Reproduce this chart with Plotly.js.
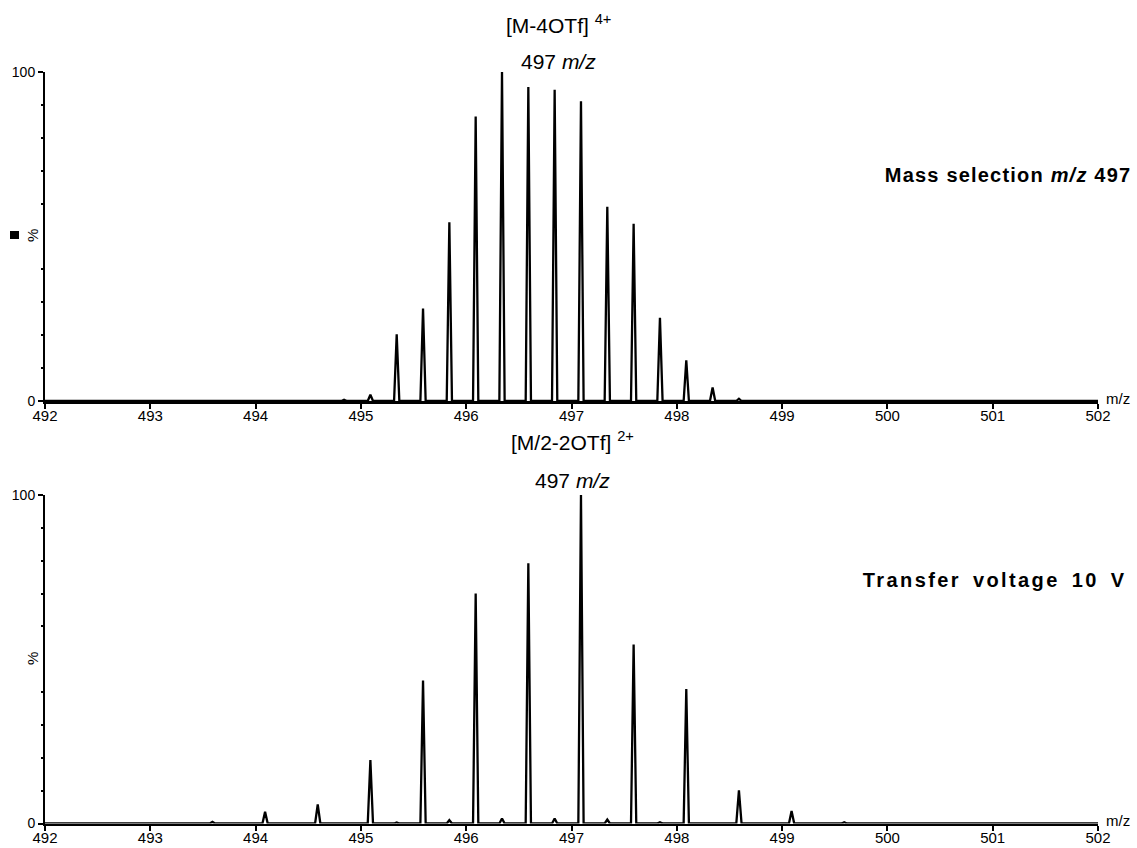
<!DOCTYPE html>
<html>
<head>
<meta charset="utf-8">
<script src="https://cdn.plot.ly/plotly-3.0.1.min.js"></script>
<style>html,body{margin:0;padding:0;background:#fff;}#chart{width:1137px;height:848px;}</style>
</head>
<body>
<div id="chart"></div>
<script>
// Peak centroids (m/z) and relative intensities (%)
const topMz  = [494.84, 495.09, 495.34, 495.59, 495.84, 496.09, 496.34, 496.59, 496.84, 497.09, 497.34, 497.59, 497.84, 498.09, 498.34, 498.59];
const topInt = [0.4, 1.9, 20.3, 28.1, 54.3, 86.5, 100, 95.4, 94.6, 91.1, 59.0, 53.9, 25.3, 12.4, 4.1, 0.7];

const botMz  = [492.59, 493.09, 493.59, 494.09, 494.59, 495.09, 495.34, 495.59, 495.84, 496.09, 496.34, 496.59, 496.84, 497.09, 497.34, 497.59, 497.84, 498.09, 498.59, 499.09, 499.59];
const botInt = [0.1, 0.2, 0.5, 3.6, 5.8, 19.3, 0.3, 43.5, 1.0, 70.0, 1.5, 79.2, 1.5, 100, 1.2, 54.5, 0.4, 40.9, 10.1, 3.8, 0.4];

const xTicks = [492, 493, 494, 495, 496, 497, 498, 499, 500, 501, 502];
const yTickVals = [0, 100];
const yTickText = ['0', '100'];
const yMidTick = [50];
const yMinorTicks = [10, 20, 30, 40, 60, 70, 80, 90];

const X_MIN = 492, X_MAX = 502;
const HALF = 0.025; // peak half-width at base (m/z)

function profile(mz, inten) {
  const xs = [X_MIN], ys = [0];
  for (let i = 0; i < mz.length; i++) {
    xs.push(mz[i] - HALF, mz[i], mz[i] + HALF);
    ys.push(0, inten[i], 0);
  }
  xs.push(X_MAX); ys.push(0);
  return {x: xs, y: ys};
}

const W = 1137, H = 848;
const px = v => v / W;
const py = v => 1 - v / H;
const FONT = 'Arial, "Liberation Sans", sans-serif';

const p1 = profile(topMz, topInt);
const p2 = profile(botMz, botInt);

const traces = [
  {x: p1.x, y: p1.y, xaxis: 'x', yaxis: 'y', type: 'scatter', mode: 'lines',
   line: {color: '#000', width: 2.3}, hoverinfo: 'skip', showlegend: false},
  {x: p2.x, y: p2.y, xaxis: 'x2', yaxis: 'y2', type: 'scatter', mode: 'lines',
   line: {color: '#000', width: 2.3}, hoverinfo: 'skip', showlegend: false}
];

function xAxis(anchor) {
  return {
    domain: [px(45), px(1098)], anchor: anchor, range: [X_MIN, X_MAX],
    tickmode: 'array', tickvals: xTicks, ticktext: xTicks.map(String),
    showline: true, linecolor: '#000', linewidth: 2.5,
    ticks: 'outside', ticklen: 5, tickwidth: 2, tickcolor: '#000',
    ticklabelstandoff: -6,
    showgrid: false, zeroline: false, fixedrange: true,
    tickfont: {family: FONT, size: 15, color: '#000'}, automargin: false
  };
}
function yAxis(anchor, d0, d1) {
  return {
    domain: [py(d0), py(d1)], anchor: anchor, range: [0, 100],
    tickmode: 'array', tickvals: yTickVals, ticktext: yTickText,
    showline: true, linecolor: '#000', linewidth: 2,
    ticks: 'outside', ticklen: 5, tickwidth: 2, tickcolor: '#000',
    minor: {tickmode: 'array', tickvals: yMinorTicks, ticks: 'outside', ticklen: 2, tickwidth: 2, tickcolor: '#000', showgrid: false},
    showgrid: false, zeroline: false, fixedrange: true,
    tickfont: {family: FONT, size: 14, color: '#000'}, automargin: false
  };
}
function yMid(anchor, overlay, d0, d1) {
  return {
    domain: [py(d0), py(d1)], anchor: anchor, overlaying: overlay, side: 'left', range: [0, 100],
    tickmode: 'array', tickvals: yMidTick, showticklabels: false,
    showline: false, ticks: 'outside', ticklen: 5, tickwidth: 2, tickcolor: '#000',
    showgrid: false, zeroline: false, fixedrange: true, automargin: false
  };
}

const ann = (text, x, y, size, extra) => Object.assign({
  text: text, xref: 'paper', yref: 'paper', x: px(x), y: py(y),
  xanchor: 'center', yanchor: 'middle', showarrow: false,
  font: {family: FONT, size: size, color: '#000'}
}, extra || {});

const layout = {
  width: W, height: H,
  margin: {l: 0, r: 0, t: 0, b: 0},
  paper_bgcolor: '#fff', plot_bgcolor: '#fff',
  xaxis: xAxis('y'),
  yaxis: yAxis('x', 401, 72),
  yaxis3: yMid('x', 'y', 401, 72),
  xaxis2: xAxis('y2'),
  yaxis2: yAxis('x2', 823.5, 495),
  yaxis4: yMid('x2', 'y2', 823.5, 495),
  annotations: [
    ann('[M-4OTf] <sup>4+</sup>', 558, 24, 21),
    ann('497 <i>m/z</i>', 558, 62, 21),
    ann('[M/2-2OTf] <sup>2+</sup>', 572, 441, 21),
    ann('497 <i>m/z</i>', 572, 480, 21),
    ann('<b>Mass selection <i>m/z</i> 497</b>', 1007.5, 175, 20),
    ann('<b>Transfer voltage 10 V</b>', 995, 580, 20),
    ann('%', 32, 236, 15, {textangle: -90}),
    ann('%', 32, 659, 15, {textangle: -90}),
    ann('m/z', 1118, 398, 15),
    ann('m/z', 1118, 820, 15)
  ],
  shapes: [
    {type: 'rect', xref: 'paper', yref: 'paper', x0: px(10), x1: px(19), y0: py(239), y1: py(231),
     fillcolor: '#000', line: {width: 0}}
  ]
};

Plotly.newPlot('chart', traces, layout, {staticPlot: true, displayModeBar: false}).then(gd => {
  // widen the spacing of the two bold side labels (centred text, so it grows symmetrically)
  const texts = gd.querySelectorAll('.annotation-text');
  texts.forEach(t => {
    const s = t.textContent;
    if (s.indexOf('Mass selection') === 0) {
      t.style.letterSpacing = '1.2px';
    } else if (s.indexOf('Transfer voltage') === 0) {
      t.style.letterSpacing = '2.4px';
      t.style.wordSpacing = '4px';
    }
  });
});
</script>
</body>
</html>
